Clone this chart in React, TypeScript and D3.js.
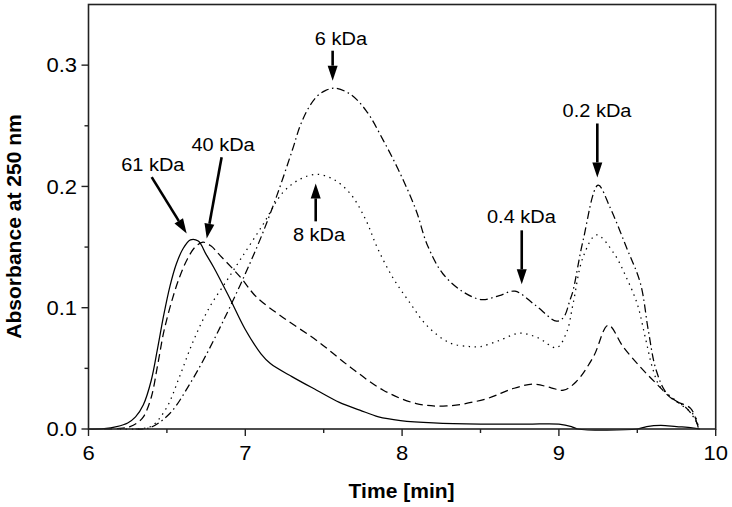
import React from "react";
import * as d3 from "d3";

const W = 732;
const H = 507;

// ---- data (time [min], absorbance) ----
const kda61T = [6.0, 6.1, 6.18, 6.25, 6.3, 6.35, 6.4, 6.44, 6.48, 6.52, 6.56, 6.6, 6.65, 6.7, 6.75, 6.8, 6.9, 7.0, 7.1, 7.16, 7.3, 7.455, 7.6, 7.73, 7.85, 7.99, 8.2, 8.5, 8.8, 9.0, 9.08, 9.12, 9.5, 9.56, 9.65, 9.75, 9.85, 9.9];
const kda61V = [0, 0.0003, 0.002, 0.005, 0.01, 0.02, 0.04, 0.066, 0.094, 0.118, 0.136, 0.148, 0.156, 0.155, 0.144, 0.133, 0.108, 0.082, 0.062, 0.054, 0.043, 0.032, 0.022, 0.0156, 0.01, 0.007, 0.005, 0.004, 0.004, 0.004, 0.002, 0, 0, 0.002, 0.003, 0.002, 0.001, 0];

const kda40T = [6.1, 6.2, 6.265, 6.31, 6.35, 6.4, 6.44, 6.48, 6.53, 6.58, 6.63, 6.68, 6.73, 6.78, 6.84, 6.97, 7.07, 7.24, 7.455, 7.67, 7.88, 8.09, 8.285, 8.54, 8.7, 8.84, 8.95, 9.03, 9.11, 9.22, 9.315, 9.41, 9.52, 9.62, 9.73, 9.84, 9.88, 9.89];
const kda40V = [0, 0.0005, 0.002, 0.005, 0.01, 0.026, 0.052, 0.08, 0.105, 0.125, 0.14, 0.15, 0.154, 0.151, 0.143, 0.125, 0.109, 0.092, 0.073, 0.051, 0.032, 0.021, 0.019, 0.025, 0.033, 0.037, 0.034, 0.032, 0.039, 0.0595, 0.0856, 0.0677, 0.051, 0.0376, 0.024, 0.017, 0.005, 0];

const kda8T = [6.2, 6.35, 6.41, 6.5, 6.58, 6.67, 6.77, 6.88, 6.97, 7.11, 7.24, 7.35, 7.455, 7.56, 7.67, 7.77, 7.84, 7.94, 8.05, 8.16, 8.305, 8.43, 8.5, 8.62, 8.75, 8.87, 8.985, 9.05, 9.09, 9.155, 9.24, 9.35, 9.43, 9.5, 9.55, 9.6, 9.645, 9.77, 9.87, 9.89];
const kda8V = [0, 0.0005, 0.003, 0.018, 0.043, 0.073, 0.1, 0.122, 0.14, 0.168, 0.195, 0.206, 0.21, 0.206, 0.194, 0.172, 0.15, 0.125, 0.104, 0.085, 0.071, 0.068, 0.068, 0.073, 0.079, 0.075, 0.067, 0.08, 0.103, 0.142, 0.16, 0.145, 0.125, 0.103, 0.076, 0.049, 0.035, 0.021, 0.01, 0];

const kda6T = [6.3, 6.39, 6.52, 6.65, 6.754, 6.84, 6.9, 7.0, 7.1, 7.2, 7.3, 7.35, 7.4, 7.455, 7.51, 7.572, 7.67, 7.77, 7.88, 7.99, 8.09, 8.16, 8.26, 8.39, 8.508, 8.62, 8.72, 8.85, 8.985, 9.03, 9.07, 9.09, 9.155, 9.25, 9.325, 9.43, 9.52, 9.57, 9.62, 9.69, 9.815, 9.88, 9.89];
const kda6V = [0, 0.001, 0.013, 0.038, 0.062, 0.084, 0.1, 0.128, 0.158, 0.192, 0.23, 0.25, 0.264, 0.274, 0.279, 0.281, 0.276, 0.2626, 0.238, 0.21, 0.18, 0.152, 0.128, 0.113, 0.1067, 0.11, 0.1136, 0.102, 0.0889, 0.092, 0.106, 0.114, 0.156, 0.201, 0.183, 0.15, 0.12, 0.0815, 0.0486, 0.029, 0.017, 0.005, 0];

const xTicks = [6, 7, 8, 9, 10];
const xMinor = [6.5, 7.5, 8.5, 9.5];
const yTicks = [0.0, 0.1, 0.2, 0.3];
const yMinor = [0.05, 0.15, 0.25];

// annotations: label position and arrow (from -> to) in data units
const annLabels = ["61 kDa", "40 kDa", "6 kDa", "8 kDa", "0.2 kDa", "0.4 kDa"];
const annLabelT = [6.41, 6.858, 7.61, 7.47, 9.243, 8.761];
const annLabelV = [0.213, 0.229, 0.3166, 0.155, 0.257, 0.1698];
const annFromT = [6.403, 6.849, 7.557, 7.449, 9.245, 8.763];
const annFromV = [0.2077, 0.2241, 0.3119, 0.1712, 0.2519, 0.1638];
const annToT = [6.626, 6.754, 7.557, 7.449, 9.245, 8.763];
const annToV = [0.1611, 0.157, 0.2872, 0.2025, 0.2074, 0.1193];

const series = [
  { t: kda61T, v: kda61V, dash: "none" },
  { t: kda40T, v: kda40V, dash: "8,4.5" },
  { t: kda8T, v: kda8V, dash: "1.4,4.6" },
  { t: kda6T, v: kda6V, dash: "8,3.5,1.5,3.5" },
];

const FONT = "'Liberation Sans', Arial, Helvetica, sans-serif";

export default function App() {
  const x = d3.scaleLinear().domain([6, 10]).range([88.5, 715.7]);
  const y = d3.scaleLinear().domain([0, 0.35]).range([429, 4.5]);
  const line = d3
    .line<[number, number]>()
    .x((d) => x(d[0]))
    .y((d) => Math.min(y(0), y(d[1])))
    .curve(d3.curveCatmullRom.alpha(0.5));

  const arrowHead = (x1: number, y1: number, x2: number, y2: number) => {
    const len = 15;
    const half = 5;
    const dx = x2 - x1;
    const dy = y2 - y1;
    const L = Math.sqrt(dx * dx + dy * dy);
    const ux = dx / L;
    const uy = dy / L;
    const bx = x2 - ux * len;
    const by = y2 - uy * len;
    const px = -uy;
    const py = ux;
    return {
      pts: `${x2},${y2} ${bx + px * half},${by + py * half} ${bx - px * half},${by - py * half}`,
      bx,
      by,
    };
  };

  return (
    <svg
      width={W}
      height={H}
      style={{ position: "absolute", left: 0, top: 0, background: "#fff" }}
      fontFamily={FONT}
    >
      <rect x={0} y={0} width={W} height={H} fill="#fff" />
      {/* curves */}
      {series.map((s, i) => (
        <path
          key={i}
          d={line(s.t.map((t, j) => [t, s.v[j]] as [number, number])) || ""}
          fill="none"
          stroke="#000"
          strokeWidth={1.25}
          strokeDasharray={s.dash}
          strokeLinecap="butt"
        />
      ))}

      {/* frame */}
      <rect
        x={x(6)}
        y={y(0.35)}
        width={x(10) - x(6)}
        height={y(0) - y(0.35)}
        fill="none"
        stroke="#222"
        strokeWidth={1.6}
      />

      {/* x ticks */}
      {xTicks.map((t) => (
        <g key={"xt" + t}>
          <line x1={x(t)} x2={x(t)} y1={y(0)} y2={y(0) + 7} stroke="#222" strokeWidth={1.4} />
          <text
            transform={`translate(${x(t)},${460}) scale(1.1,1)`}
            textAnchor="middle"
            fontSize={20}
            fill="#000"
          >
            {String(t)}
          </text>
        </g>
      ))}
      {xMinor.map((t) => (
        <line key={"xm" + t} x1={x(t)} x2={x(t)} y1={y(0)} y2={y(0) + 4} stroke="#222" strokeWidth={1.4} />
      ))}

      {/* y ticks */}
      {yTicks.map((v) => (
        <g key={"yt" + v}>
          <line x1={x(6) - 7} x2={x(6)} y1={y(v)} y2={y(v)} stroke="#222" strokeWidth={1.4} />
          <text
            transform={`translate(${x(6) - 11.5},${y(v) + 7.2}) scale(1.1,1)`}
            textAnchor="end"
            fontSize={20}
            fill="#000"
          >
            {v.toFixed(1)}
          </text>
        </g>
      ))}
      {yMinor.map((v) => (
        <line key={"ym" + v} x1={x(6) - 4} x2={x(6)} y1={y(v)} y2={y(v)} stroke="#222" strokeWidth={1.4} />
      ))}

      {/* axis titles */}
      <text
        transform={`translate(${(x(6) + x(10)) / 2 - 0.5},497.5) scale(1.08,1)`}
        textAnchor="middle"
        fontSize={19.5}
        fontWeight="bold"
        fill="#000"
      >
        Time [min]
      </text>
      <text
        transform={`translate(20.5,${226.5}) rotate(-90) scale(1.08,1)`}
        textAnchor="middle"
        fontSize={19.5}
        fontWeight="bold"
        fill="#000"
      >
        Absorbance at 250 nm
      </text>

      {/* annotations */}
      {annLabels.map((lab, i) => {
        const x1 = x(annFromT[i]);
        const y1 = y(annFromV[i]);
        const x2 = x(annToT[i]);
        const y2 = y(annToV[i]);
        const h = arrowHead(x1, y1, x2, y2);
        return (
          <g key={"a" + i}>
            <text
              transform={`translate(${x(annLabelT[i])},${y(annLabelV[i])}) scale(1.08,1)`}
              textAnchor="middle"
              fontSize={18.5}
              fill="#000"
            >
              {lab}
            </text>
            <line x1={x1} y1={y1} x2={h.bx} y2={h.by} stroke="#000" strokeWidth={2.6} />
            <polygon points={h.pts} fill="#000" />
          </g>
        );
      })}
    </svg>
  );
}
